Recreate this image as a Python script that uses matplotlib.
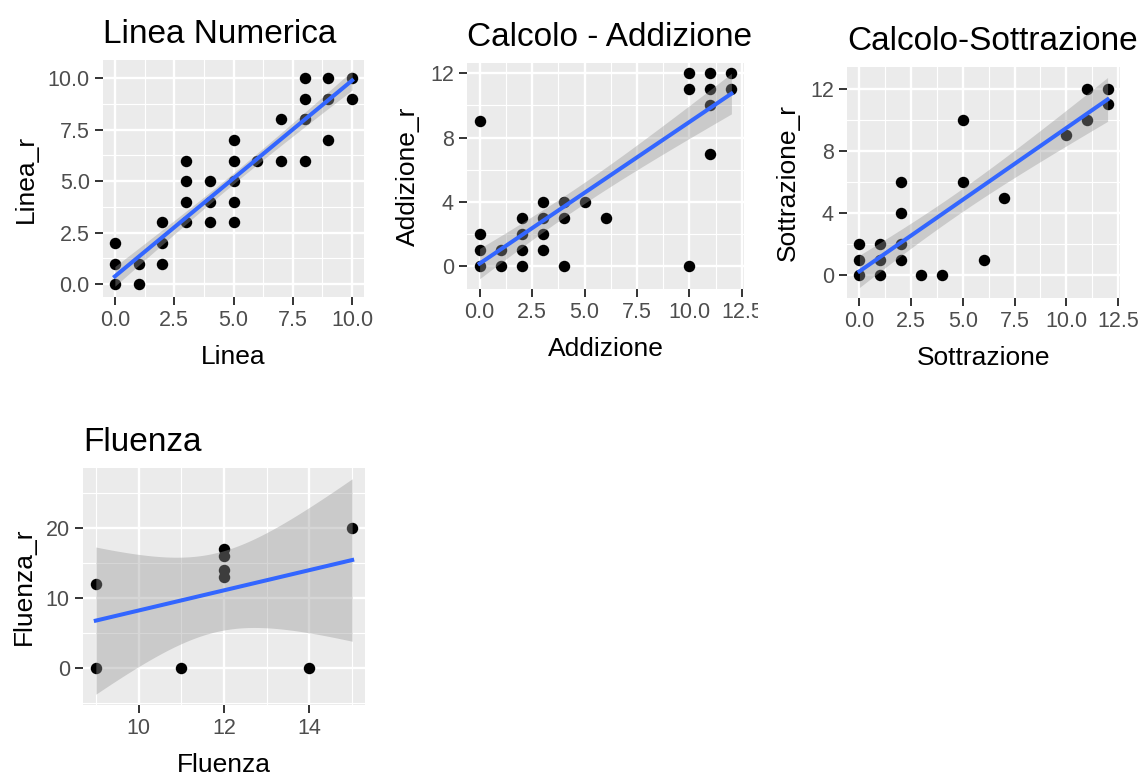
import numpy as np
import matplotlib.pyplot as plt
from matplotlib.transforms import Bbox, TransformedBbox

plt.rcParams['font.family'] = ['Liberation Sans', 'DejaVu Sans']

# Linea Numerica: x, y, quante osservazioni nello stesso punto
linea_x = [0, 0, 0, 1, 1, 2, 2, 2, 3, 3, 3, 3, 4, 4, 4, 5, 5, 5, 5, 5, 6, 7, 7, 8, 8, 8, 8, 9, 9, 9, 10, 10]
linea_y = [0, 1, 2, 0, 1, 1, 2, 3, 3, 4, 5, 6, 3, 4, 5, 3, 4, 5, 6, 7, 6, 6, 8, 6, 8, 9, 10, 7, 9, 10, 9, 10]
linea_n = [5, 1, 1, 1, 2, 1, 3, 1, 2, 1, 1, 1, 1, 2, 1, 1, 1, 3, 1, 1, 3, 1, 1, 1, 3, 1, 1, 1, 3, 1, 1, 6]

# Calcolo - Addizione
add_x = [0, 0, 0, 0, 1, 1, 2, 2, 2, 2, 3, 3, 3, 3, 4, 4, 4, 5, 6, 10, 10, 10, 11, 11, 11, 11, 12, 12]
add_y = [0, 1, 2, 9, 0, 1, 0, 1, 2, 3, 1, 2, 3, 4, 0, 3, 4, 4, 3, 0, 11, 12, 7, 10, 11, 12, 11, 12]
add_n = [8, 1, 1, 1, 2, 2, 1, 2, 2, 1, 1, 2, 2, 1, 1, 2, 2, 1, 1, 1, 1, 1, 1, 1, 2, 1, 2, 4]

# Calcolo - Sottrazione
sott_x = [0, 0, 0, 1, 1, 1, 2, 2, 2, 2, 3, 4, 5, 5, 6, 7, 10, 11, 11, 12, 12]
sott_y = [0, 1, 2, 0, 1, 2, 1, 2, 4, 6, 0, 0, 6, 10, 1, 5, 9, 10, 12, 11, 12]
sott_n = [5, 1, 1, 1, 2, 1, 1, 2, 1, 1, 1, 1, 1, 1, 1, 1, 1, 1, 1, 2, 3]

# Fluenza
flu_x = [9, 9, 11, 12, 12, 12, 12, 14, 15]
flu_y = [0, 12, 0, 13, 14, 16, 17, 0, 20]
flu_n = [1, 1, 1, 1, 1, 2, 1, 1, 1]

# tick
ticks_25 = [0, 2.5, 5, 7.5, 10]
ticks_25b = [0, 2.5, 5, 7.5, 10, 12.5]
labels_25 = ['0.0', '2.5', '5.0', '7.5', '10.0']
labels_25b = ['0.0', '2.5', '5.0', '7.5', '10.0', '12.5']
ticks_4 = [0, 4, 8, 12]
labels_4 = ['0', '4', '8', '12']
flu_xticks = [10, 12, 14]
flu_yticks = [0, 10, 20]

W, H = 1140, 776


def box(l, t, r, b):
    return [l / W, 1 - b / H, (r - l) / W, (b - t) / H]


def t_crit(df):
    # quantile 0.975 della t di Student (espansione di Cornish-Fisher)
    z = 1.959964
    g1 = (z**3 + z) / 4
    g2 = (5*z**5 + 16*z**3 + 3*z) / 96
    g3 = (3*z**7 + 19*z**5 + 17*z**3 - 15*z) / 384
    g4 = (79*z**9 + 776*z**7 + 1482*z**5 - 1920*z**3 - 945*z) / 92160
    return z + g1/df + g2/df**2 + g3/df**3 + g4/df**4


def smooth_lm(x, y, n):
    xr = np.repeat(np.array(x, float), n)
    yr = np.repeat(np.array(y, float), n)
    slope, icpt = np.polyfit(xr, yr, 1)
    res = yr - (icpt + slope * xr)
    m = len(xr)
    s = np.sqrt(np.sum(res**2) / (m - 2))
    sxx = np.sum((xr - xr.mean())**2)
    xx = np.linspace(xr.min(), xr.max(), 80)
    fit = icpt + slope * xx
    se = s * np.sqrt(1 / m + (xx - xr.mean())**2 / sxx)
    tc = t_crit(m - 2)
    return xx, fit, fit - tc * se, fit + tc * se


def minors(major, lo, hi):
    step = major[1] - major[0]
    cand = np.arange(major[0] - step / 2, major[-1] + step, step)
    return [c for c in cand if lo <= c <= hi]


fig = plt.figure(figsize=(11.4, 7.76), dpi=100)

panels = [
    ('Linea Numerica', 'Linea', 'Linea_r', linea_x, linea_y, linea_n,
     box(103, 60, 364, 297), ticks_25, labels_25, ticks_25, labels_25),
    ('Calcolo - Addizione', 'Addizione', 'Addizione_r', add_x, add_y, add_n,
     box(467, 63, 744, 289), ticks_25b, labels_25b, ticks_4, labels_4),
    ('Calcolo-Sottrazione', 'Sottrazione', 'Sottrazione_r', sott_x, sott_y, sott_n,
     box(847, 67, 1120, 298), ticks_25b, labels_25b, ticks_4, labels_4),
    ('Fluenza', 'Fluenza', 'Fluenza_r', flu_x, flu_y, flu_n,
     box(83, 468, 365, 705), flu_xticks, [str(v) for v in flu_xticks],
     flu_yticks, [str(v) for v in flu_yticks]),
]

axes = []
for title, xl, yl, x, y, n, rect, xt, xtl, yt, ytl in panels:
    ax = fig.add_axes(rect)
    axes.append(ax)
    xx, fit, lo, hi = smooth_lm(x, y, n)

    ax.scatter(x, y, s=68, color='black', linewidths=0, zorder=2)
    ax.fill_between(xx, lo, hi, color='#999999', alpha=0.4, linewidth=0, zorder=3)
    ax.plot(xx, fit, color='#3366FF', lw=2.9, zorder=4)

    # limiti come ggplot (espansione del 5%)
    x0, x1 = min(x), max(x)
    y0, y1 = min(min(y), lo.min()), max(max(y), hi.max())
    dx, dy = (x1 - x0) * 0.05, (y1 - y0) * 0.05
    ax.set_xlim(x0 - dx, x1 + dx)
    ax.set_ylim(y0 - dy, y1 + dy)

    ax.set_xticks(xt)
    ax.set_xticklabels(xtl)
    ax.set_yticks(yt)
    ax.set_yticklabels(ytl)
    ax.set_xticks(minors(xt, x0 - dx, x1 + dx), minor=True)
    ax.set_yticks(minors(yt, y0 - dy, y1 + dy), minor=True)

    ax.set_facecolor('#EBEBEB')
    ax.set_axisbelow(True)
    ax.grid(which='major', color='white', lw=1.7)
    ax.grid(which='minor', color='white', lw=0.85)
    for sp in ax.spines.values():
        sp.set_visible(False)
    ax.tick_params(which='major', length=5.5, width=1.4, color='#333333',
                   labelcolor='#4D4D4D', labelsize=15.5, pad=4)
    ax.tick_params(which='minor', length=0)

    ax.set_title(title, loc='left', fontsize=24, pad=12)
    ax.set_xlabel(xl, fontsize=19, labelpad=10)
    ax.set_ylabel(yl, fontsize=19, labelpad=7)

# l'etichetta 12.5 del secondo pannello è tagliata
clip = TransformedBbox(Bbox([[0, 0], [758 / W, 1]]), fig.transFigure)
for lab in axes[1].get_xticklabels():
    lab.set_clip_on(True)
    lab.set_clip_box(clip)

fig.savefig('out.png', dpi=100)
